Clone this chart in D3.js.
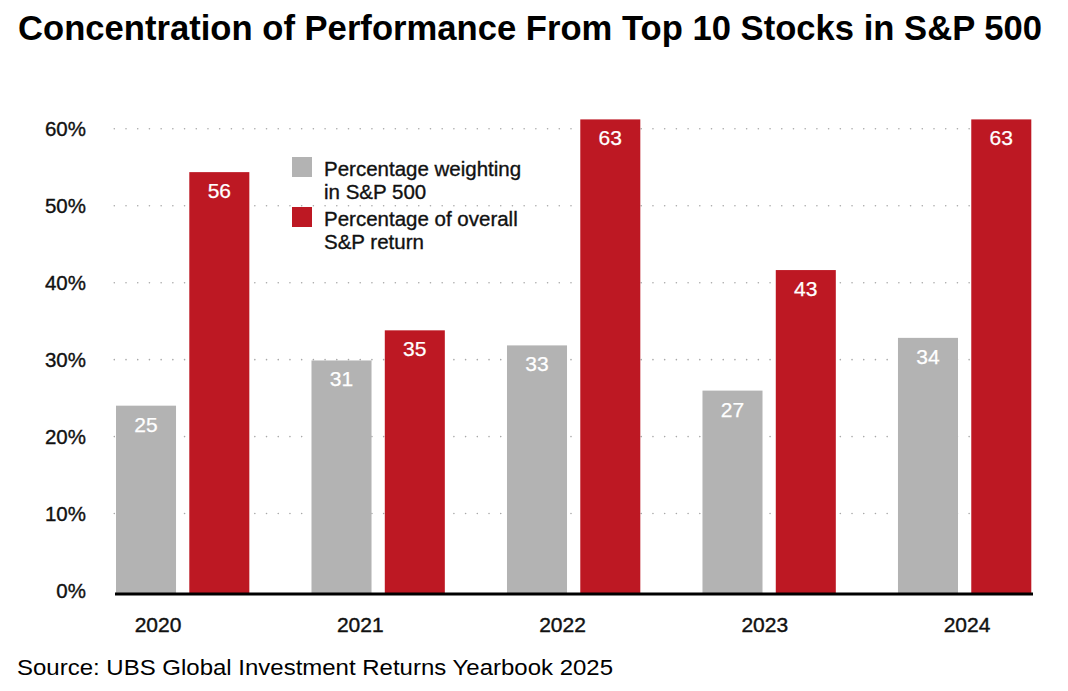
<!DOCTYPE html>
<html>
<head>
<meta charset="utf-8">
<script src="https://cdn.jsdelivr.net/npm/d3@7"></script>
<style>
  html, body { margin: 0; padding: 0; background: #fff; }
  svg { display: block; font-family: "Liberation Sans", Arial, Helvetica, sans-serif; }
</style>
</head>
<body>
<svg id="chart" width="1068" height="691"></svg>
<script>
// ---- data ----
const years = ["2020", "2021", "2022", "2023", "2024"];
const seriesNames = ["Percentage weighting in S&P 500", "Percentage of overall S&P return"];
const weighting = [25, 31, 33, 27, 34];
const returnShare = [56, 35, 63, 43, 63];
const yTicks = [0, 10, 20, 30, 40, 50, 60];
const titleText = "Concentration of Performance From Top 10 Stocks in S&P 500";
const sourceText = "Source: UBS Global Investment Returns Yearbook 2025";
const legendLines = [["Percentage weighting", "in S&P 500"], ["Percentage of overall", "S&P return"]];
const colors = ["#b3b3b3", "#bd1823"];

const svg = d3.select("#chart");

// ---- scales ----
const x0 = d3.scaleBand().domain(years).range([116, 1031.3]).paddingInner(0.318).paddingOuter(0);
const x1 = d3.scaleBand().domain([0, 1]).range([0, x0.bandwidth()]).paddingInner(0.181).paddingOuter(0);
const yBar = d3.scaleLinear().domain([0, 60]).range([594, 142]);
const yAxisScale = d3.scaleLinear().domain([0, 60]).range([590.5, 128.8]);
const xLabel = d3.scalePoint().domain(years).range([158, 967]);

// ---- title ----
svg.append("text")
  .attr("x", 18).attr("y", 39.5)
  .attr("font-size", 34.5).attr("font-weight", "bold").attr("fill", "#000")
  .attr("textLength", 1024).attr("lengthAdjust", "spacingAndGlyphs")
  .text(titleText);

// ---- gridlines ----
svg.append("g").selectAll("line")
  .data(yTicks.filter(d => d > 0))
  .join("line")
  .attr("x1", 114.3).attr("x2", 1036)
  .attr("y1", d => yAxisScale(d)).attr("y2", d => yAxisScale(d))
  .attr("stroke", "#a8a8a8").attr("stroke-width", 1.6)
  .attr("stroke-linecap", "round")
  .attr("stroke-dasharray", "0.01 11.7");

// ---- y tick labels ----
svg.append("g").selectAll("text")
  .data(yTicks)
  .join("text")
  .attr("x", 86).attr("y", d => yAxisScale(d))
  .attr("dy", "0.36em")
  .attr("text-anchor", "end")
  .attr("font-size", 20.5).attr("fill", "#111")
  .attr("stroke", "#111").attr("stroke-width", 0.35)
  .text(d => d + "%");

// ---- bars ----
const rows = years.map((yr, i) => ({ year: yr, values: [weighting[i], returnShare[i]] }));
const groups = svg.append("g").selectAll("g")
  .data(rows)
  .join("g")
  .attr("transform", d => `translate(${x0(d.year)},0)`);

groups.selectAll("rect")
  .data(d => d.values.map((v, k) => ({ k, v })))
  .join("rect")
  .attr("x", d => x1(d.k))
  .attr("width", x1.bandwidth())
  .attr("y", d => yBar(d.v))
  .attr("height", d => yBar(0) - yBar(d.v))
  .attr("fill", d => colors[d.k]);

groups.selectAll("text")
  .data(d => d.values.map((v, k) => ({ k, v })))
  .join("text")
  .attr("x", d => x1(d.k) + x1.bandwidth() / 2)
  .attr("y", d => yBar(d.v) + 26)
  .attr("text-anchor", "middle")
  .attr("font-size", 21).attr("fill", "#fff")
  .attr("stroke", "#fff").attr("stroke-width", 0.25)
  .text(d => d.v);

// ---- baseline ----
svg.append("line")
  .attr("x1", 115).attr("x2", 1033)
  .attr("y1", yBar(0)).attr("y2", yBar(0))
  .attr("stroke", "#000").attr("stroke-width", 3);

// ---- x labels ----
svg.append("g").selectAll("text")
  .data(years)
  .join("text")
  .attr("x", d => xLabel(d)).attr("y", 632)
  .attr("text-anchor", "middle")
  .attr("font-size", 21).attr("fill", "#111")
  .attr("stroke", "#111").attr("stroke-width", 0.4)
  .text(d => d);

// ---- legend ----
const legend = svg.append("g");
seriesNames.forEach((name, k) => {
  const top = 157 + k * 50;
  legend.append("rect")
    .attr("x", 292).attr("y", top).attr("width", 20).attr("height", 20)
    .attr("fill", colors[k]);
  const t = legend.append("text")
    .attr("x", 324).attr("y", top + 18.5)
    .attr("font-size", 20.5).attr("fill", "#111")
    .attr("stroke", "#111").attr("stroke-width", 0.35)
    .attr("aria-label", name);
  legendLines[k].forEach((line, j) => {
    t.append("tspan")
      .attr("x", 324).attr("y", top + 18.5 + j * 23)
      .text(line);
  });
});

// ---- source ----
svg.append("text")
  .attr("x", 17).attr("y", 675)
  .attr("font-size", 22).attr("fill", "#000")
  .attr("textLength", 596).attr("lengthAdjust", "spacingAndGlyphs")
  .text(sourceText);
</script>
</body>
</html>
